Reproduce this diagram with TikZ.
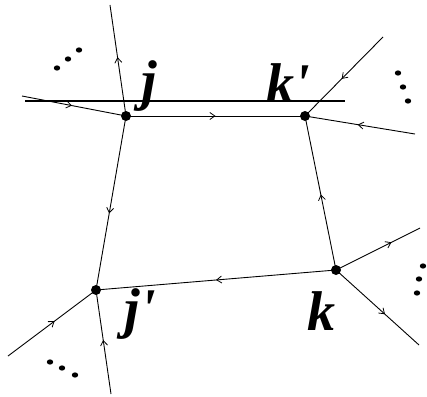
\documentclass[tikz,border=0pt]{standalone}
\usepackage{fontspec}
\setmainfont{Liberation Serif}
\usetikzlibrary{decorations.markings,arrows.meta}
\begin{document}
\begin{tikzpicture}[x=1pt,y=-1pt,
  edge/.style={line width=0.9pt},
  marr/.style={postaction={decorate},decoration={markings,mark=at position #1 with {\arrow{Straight Barb[length=5pt,width=7pt,line width=0.8pt]}}}},
  vtx/.style={circle,fill=black,inner sep=0pt,minimum size=10pt},
  lbl/.style={font=\fontsize{56}{56}\selectfont\bfseries\itshape,inner sep=0pt},
  elli/.style={fill=black}]
\useasboundingbox (0,0) rectangle (427,396);
% vertices
\node[vtx] (j) at (126,116) {};
\node[vtx] (kp) at (305,116) {};
\node[vtx] (jp) at (96,290) {};
\node[vtx] (k) at (336,270) {};
% free ends
\coordinate (jU) at (110,5);
\coordinate (jL) at (22,96);
\coordinate (kpU) at (383,37);
\coordinate (kpR) at (415,134);
\coordinate (jpL) at (8,356);
\coordinate (jpD) at (111,394);
\coordinate (kR) at (420,228);
\coordinate (kD) at (419,345);
\coordinate (tL) at (25,101);
\coordinate (tR) at (345,101);
% thick line
\draw[line width=2.4pt] (tL) -- (tR);
% edges
\draw[edge,marr=0.53] (j.center) -- (jU);
\draw[edge,marr=0.48] (jL) -- (j.center);
\draw[edge,marr=0.5] (j.center) -- (kp.center);
\draw[edge,marr=0.53] (kpU) -- (kp.center);
\draw[edge,marr=0.52] (kpR) -- (kp.center);
\draw[edge,marr=0.49] (k.center) -- (kp.center);
\draw[edge,marr=0.56] (j.center) -- (jp.center);
\draw[edge,marr=0.5] (k.center) -- (jp.center);
\draw[edge,marr=0.53] (jpL) -- (jp.center);
\draw[edge,marr=0.52] (jpD) -- (jp.center);
\draw[edge,marr=0.66] (k.center) -- (kR);
\draw[edge,marr=0.59] (k.center) -- (kD);
% labels
\node[lbl] (lj) at (149,86) {j};
\node[lbl] (lkp) at (288,83) {k\textquotesingle};
\node[lbl] (ljp) at (140,314) {j\textquotesingle};
\node[lbl] (lk) at (321,311) {k};
% ellipsis dots
\foreach \p in {(57,68),(68,59),(79,50),(398,73),(403,87),(408,101),(423,266),(419,279),(417,293),(50,362),(62,368),(75,375)}
  \fill \p ellipse (3.2pt and 2.6pt);
\end{tikzpicture}
\end{document}
